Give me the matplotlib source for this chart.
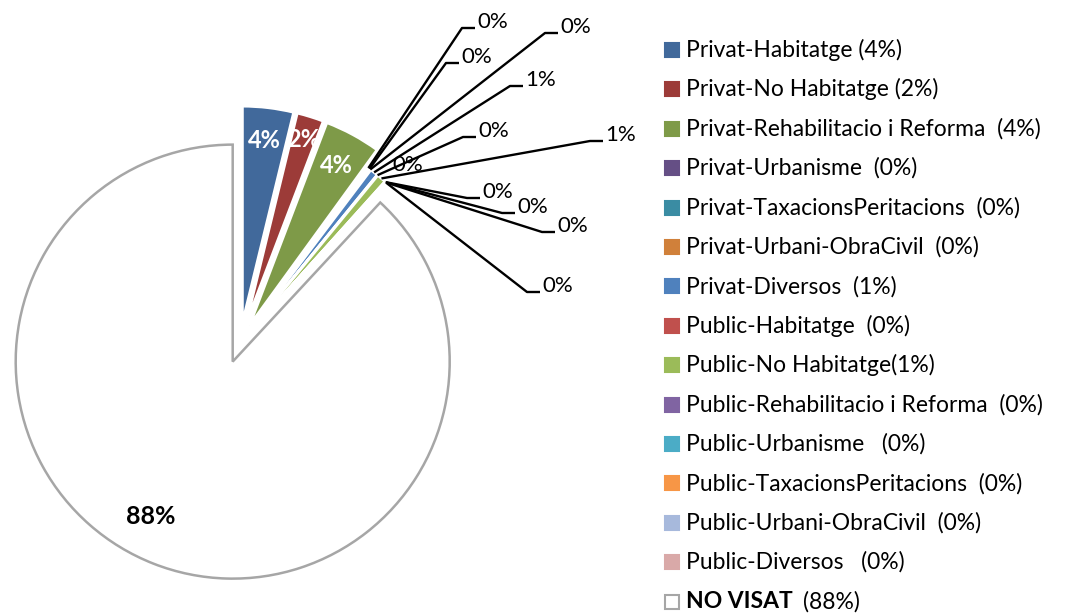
import numpy as np
import matplotlib.pyplot as plt
from matplotlib.patches import Rectangle

plt.rcParams['font.family'] = ['Lato', 'DejaVu Sans']

# ---------------------------------------------------------------------------
# data
# ---------------------------------------------------------------------------
names = ['Privat-Habitatge ', 'Privat-No Habitatge ', 'Privat-Rehabilitacio i Reforma  ',
         'Privat-Urbanisme  ', 'Privat-TaxacionsPeritacions  ', 'Privat-Urbani-ObraCivil  ',
         'Privat-Diversos  ', 'Public-Habitatge  ', 'Public-No Habitatge',
         'Public-Rehabilitacio i Reforma  ', 'Public-Urbanisme   ', 'Public-TaxacionsPeritacions  ',
         'Public-Urbani-ObraCivil  ', 'Public-Diversos   ', 'NO VISAT']
values = [3.8, 2.0, 4.2, 0.15, 0.05, 0.1, 0.6, 0.05, 0.7, 0.05, 0.02, 0.02, 0.02, 0.14, 88.1]
colors = ['#41699B', '#9C3B38', '#7E9A48', '#654F85', '#3A8CA3', '#D0803A', '#4F81BD',
          '#C0504D', '#9BBB59', '#8064A2', '#4BACC6', '#F79646', '#A7B9DC', '#D9A9A8', '#FFFFFF']
pct = ['%d%%' % int(v + 0.5) for v in values]

# ---------------------------------------------------------------------------
# layout (pixels, y from top)
# ---------------------------------------------------------------------------
W, H = 1080, 616
def py(y):
    return H - y

cx, cy, R = 240, py(343), 217
explode = [20, 20, 20] + [0] * 11 + [20]
# outside labels of the small slices: (text left x, text center y, leader line?)
small_lab = [(477, 22, True), (461, 57, True), (560, 27, True), (525, 80, True),
             (478, 131, True), (605, 135, True), (392, 165, False), (482, 192, True),
             (517, 207, True), (557, 226, True), (542, 286, True)]
small_idx = [3, 4, 5, 6, 7, 8, 9, 10, 11, 12, 13]
in_frac = [0.85, 0.89, 0.84]
big_lab = (151, 517)
FS_LEG = 16.5
FS_LAB = 16

fig = plt.figure(figsize=(W / 100, H / 100), dpi=100)
ax = fig.add_axes([0, 0, 1, 1])

wedges, _ = ax.pie(values, colors=colors, explode=explode, startangle=90, counterclock=False,
                   radius=R, center=(cx, cy),
                   wedgeprops=dict(edgecolor='white', linewidth=2))
wedges[-1].set_edgecolor('#A6A6A6')
wedges[-1].set_linewidth(1.8)

ax.set_xlim(0, W)
ax.set_ylim(0, H)
ax.set_aspect('equal')
ax.axis('off')

# inside labels
def mid_point(w, frac):
    th = np.deg2rad((w.theta1 + w.theta2) / 2)
    x0, y0 = w.center
    return x0 + frac * R * np.cos(th), y0 + frac * R * np.sin(th)

for i in [0, 1, 2]:
    x, y = mid_point(wedges[i], in_frac[i])
    ax.text(x, y, pct[i], color='white', fontsize=17, fontweight='bold', ha='center', va='center')
ax.text(big_lab[0], py(big_lab[1]), pct[14], color='black', fontsize=18, fontweight='bold',
        ha='center', va='center')

# outside labels with leader lines
for (lx, ly, line), i in zip(small_lab, small_idx):
    ax.text(lx, py(ly), pct[i], fontsize=FS_LAB, ha='left', va='center')
    if line:
        x0, y0 = mid_point(wedges[i], 1.0)
        ex, ey = lx - 15, py(ly + 6)
        ax.plot([x0, ex, lx - 2], [y0, ey, ey], color='black', lw=1.7, solid_capstyle='butt')

# legend
row0, step = 50, 39.4
for k in range(len(names)):
    yy = py(row0 + k * step)
    ec = '#A6A6A6' if k == len(names) - 1 else colors[k]
    ax.add_patch(Rectangle((665, yy - 7), 14, 14, facecolor=colors[k], edgecolor=ec, lw=1.5))
    if k == len(names) - 1:
        t = ax.text(686, yy, names[k], fontsize=FS_LEG, fontweight='bold', ha='left', va='center')
        fig.canvas.draw()
        bb = t.get_window_extent()
        ax.text(bb.x1 + 10, yy, '(' + pct[k] + ')', fontsize=FS_LEG, ha='left', va='center')
    else:
        ax.text(686, yy, names[k] + '(' + pct[k] + ')', fontsize=FS_LEG, ha='left', va='center')

fig.savefig('out.png', dpi=100)
